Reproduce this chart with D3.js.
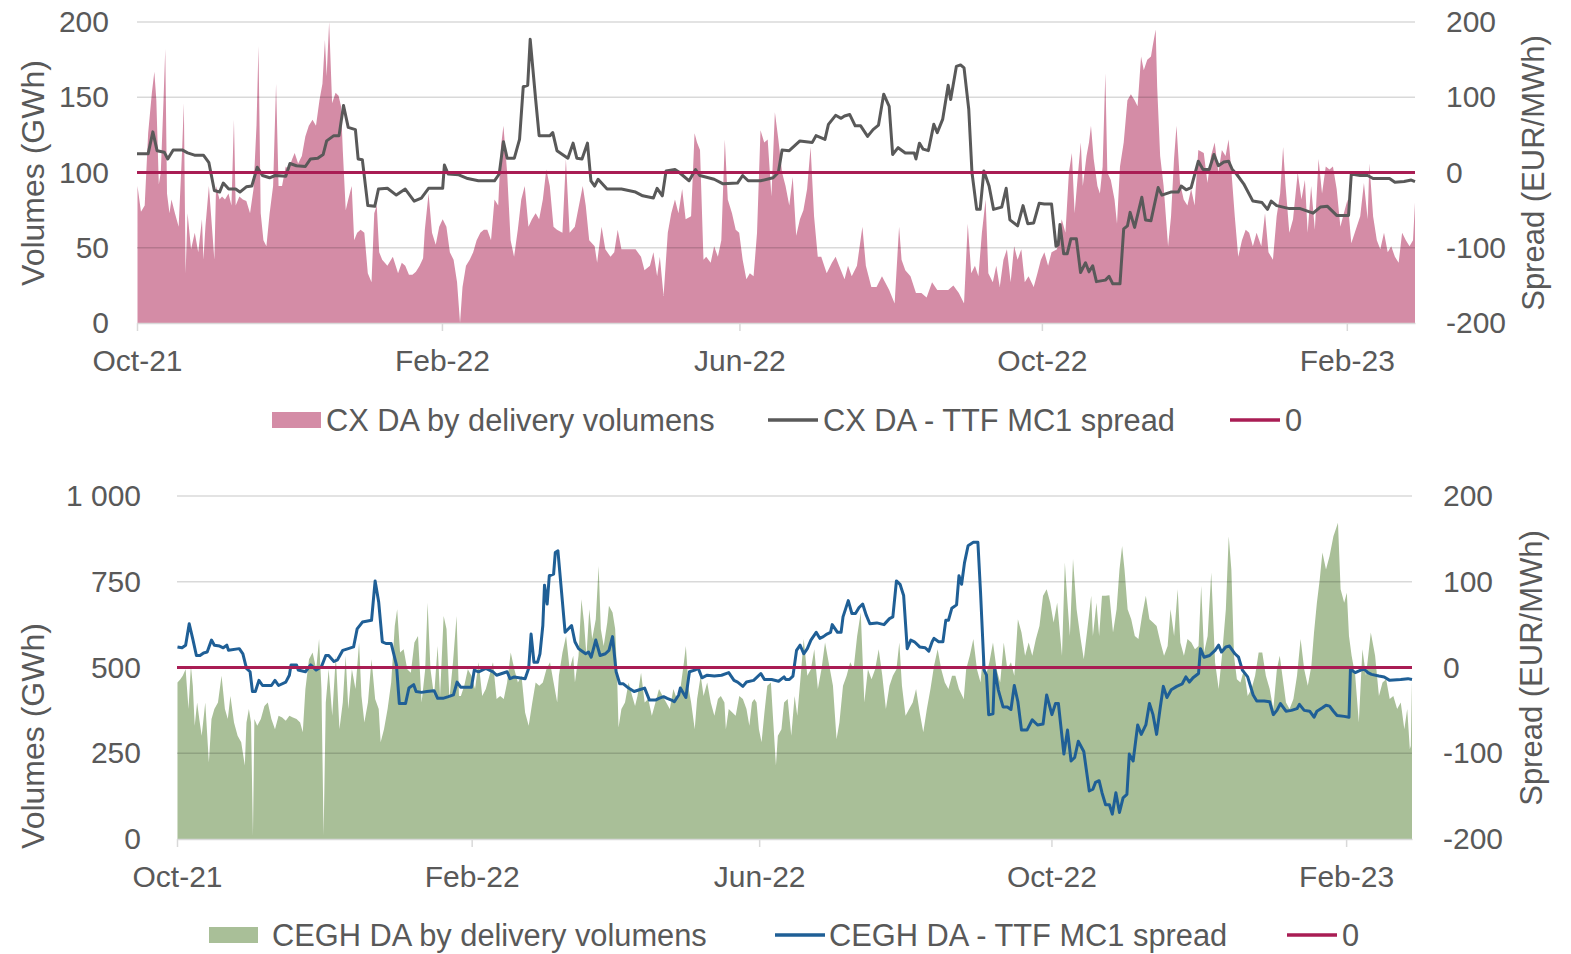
<!DOCTYPE html>
<html><head><meta charset="utf-8">
<script src="https://cdn.jsdelivr.net/npm/d3@7"></script>
<style>
body{margin:0;background:#fff}
svg{display:block}
text{font-family:"Liberation Sans",Arial,sans-serif;fill:#595959}
</style>
</head><body><svg id="c" width="1571" height="954"></svg>
<script>
// ---------- data ----------
const START = "2021-10-01";          // day 0
const END_DAY = 515.5;               // last day shown (end of Feb-23)
const tickMonths = ["2021-10-01","2022-02-01","2022-06-01","2022-10-01","2023-02-01"];
const tickLabels = ["Oct-21","Feb-22","Jun-22","Oct-22","Feb-23"];
const cxVolTicks = [0,50,100,150,200];
const ceghVolTicks = [0,250,500,750,1000];
const spreadTicks = [-200,-100,0,100,200];
const zeroLevel = 0;

// CX DA by delivery volumes (GWh) – day offset / value
const cxVolDays = [0.2,1.6,3.1,4.5,6,7,7.8,8.8,9.6,10.7,11.4,12.1,13.1,13.9,15.3,16.8,18.2,18.9,19.6,20.4,21.8,23.3,24.7,26.2,26.8,27.6,29,30.4,31.2,31.9,33.3,34.3,35.5,36.9,38.1,39.1,39.8,41.3,42.7,44.1,45.6,47,48.2,49,49.9,51,52.2,53.5,54.9,56.1,57.1,58.5,60,61.1,62.6,63.6,65,66.5,67.9,69.3,70.8,72.2,73.6,74.8,75.8,76.5,77.5,78.7,80.1,81.3,82.3,83,84.2,85.2,86.6,87.6,88.8,90.2,91.7,93.1,94.6,95.7,96.7,97.7,98.9,101,103.2,105.3,106.8,108.2,109.7,111.1,112.5,114,115.4,116.1,117.6,119,120.5,121.9,123.3,124.8,126.2,127.7,129.1,130.3,131.3,132.7,134.2,135.6,137,138.5,139.9,141.3,142.8,144.2,145.7,146.8,147.8,149.3,150.7,152.1,153.6,155,156.4,157.9,159.3,160.8,162.2,163.7,165.1,166.5,168,169.4,171.6,173,174.5,176.6,179.8,181,182.4,184.6,185.6,187.4,188.9,191,192.5,193.9,195.4,198.3,201.1,203.3,204.7,206.9,208.3,209.8,210.9,212.4,214.1,215.5,217,218.4,219.9,221.3,223.5,224.9,225.9,227.1,228.5,229.6,231.4,232.8,234.3,235.7,237.1,238.3,240,241.5,242.9,244.3,245.8,247.2,248.7,250.1,251.5,253,254.4,255.9,257.3,258.7,260.2,261.6,263.1,264.5,265.9,267.4,268.8,270.3,271.7,273.1,274.6,276,278.2,280.3,281.8,283.2,285.4,286.8,288.3,290.4,292.6,294,296.2,298.3,300.5,303.4,305.6,307.4,308.4,309.9,312,314.2,316.4,318.5,320.7,322.8,325,327.2,329.3,331.5,333.6,335.1,336.5,338,339.4,340.8,342.3,343.4,345.2,346.6,348,349.5,350.9,352.4,353.8,355.2,356.7,358.1,359.6,361.7,363.2,364.6,366,367.5,368.9,371.1,373,374.5,375.9,377.1,378.2,379.6,380.7,381.5,383,384,384.8,385.9,387.4,388.4,389.5,390.6,391.4,392.8,394.3,395.3,396.5,398,399.5,400.9,402.4,403.6,405,406.1,407.5,409,409.7,410.9,411.5,412.7,414.1,415.9,417.1,418.3,419.3,420.7,422.2,423.7,425.2,426.6,428.1,430.3,431.8,433.2,434.7,436.2,437.6,439.1,440.3,441.3,442.8,444.2,445.7,447.2,448.6,450.1,451.6,453.5,455,456.4,458.2,459.7,461.1,462.3,463.3,464.8,466.3,468.2,469.7,471.1,472.2,473.6,475.1,476.6,478,479.5,481,482.4,483.9,485.4,486.8,488.3,489.8,491.2,493.4,494.9,496.4,497.1,498.6,500.1,501.5,503,504.5,505.9,507.4,508.9,510.3,511.8,513.3,514.7,515.5];
const cxVol = [91,74,78,126,153,167,148,92,100,148,182,86,73,82,73,64,115,146,33,73,49,60,47,69,42,64,91,60,42,91,82,84,82,86,78,135,78,84,82,81,73,89,131,184,73,55,51,73,91,159,91,91,104,102,109,113,106,111,124,131,135,131,148,159,188,164,200,146,153,151,144,115,75,82,91,55,60,62,60,33,27,73,78,47,42,38,44,33,40,38,32,32,34,38,43,62,86,60,52,64,69,64,47,42,27,0,24,38,42,47,55,60,62,62,55,82,78,117,131,100,55,44,62,82,91,64,69,73,69,82,102,91,64,62,60,109,60,64,91,78,55,51,40,64,49,44,47,62,49,49,49,44,35,38,47,31,44,18,60,73,82,73,89,69,71,126,120,115,42,44,40,51,44,55,122,82,73,62,60,42,29,33,31,60,128,120,122,84,140,122,100,91,78,97,58,69,75,89,117,71,44,44,33,40,44,38,29,38,31,38,64,38,24,24,31,22,13,64,42,35,31,20,20,17,27,22,22,22,25,20,13,66,33,38,31,60,82,33,27,38,24,42,49,27,51,42,49,27,31,24,33,42,47,38,47,49,69,60,100,113,73,100,120,91,111,120,131,109,91,86,104,166,100,95,82,66,104,120,148,152,148,144,177,168,175,177,184,195,157,111,91,51,71,109,131,93,82,78,89,78,115,113,93,111,120,100,115,111,122,104,71,44,55,62,60,51,60,51,73,47,42,71,86,117,91,60,69,100,82,95,60,91,62,109,86,104,102,104,89,64,73,82,53,60,71,93,69,106,71,55,49,60,47,51,44,40,60,55,51,55,80];

// CX DA - TTF MC1 spread (EUR/MWh)
const cxSpreadDays = [0,4.5,6.4,8.1,11,12.4,14.6,18.2,20.4,23.2,26.8,29,31.2,33.3,34.8,37,39.8,41.5,44.1,46.3,48.5,50.6,53.5,55.7,60,61.7,64.3,67.9,70,72.9,75.1,76.5,79.4,81.5,83.3,85.2,88.1,89.2,90.9,93.1,95.9,97.4,101,104.6,108.2,111.8,114.7,117.6,123.3,124,125.5,129.8,133.4,137.7,144.2,146.1,147.8,149.3,152.2,154.3,155.8,157.6,158.6,160.8,162.2,166.6,167.7,169.4,171.6,173.8,175.9,177.4,179.5,181.7,183.1,184.6,186,189.6,195.4,201.1,204,208.3,209.8,211.9,213.4,217,218.4,222.7,225.3,227,232.8,236.4,242.2,244.3,246.5,251.5,256.6,258.7,260.2,263.1,267.4,272.4,273.9,277.5,278.9,281.8,284,285.4,287.5,289.7,291.9,294.7,296.9,299.1,301.2,303.4,304.8,307,309.9,313.5,314.2,315.6,317.1,319.2,321.4,322.8,325,327.2,328.2,330.5,332.2,333.6,335.5,336.8,338.7,340.1,341.6,343.7,345.5,348.8,350.6,352.1,355.2,357.4,359.3,361.7,363.9,366,368.9,370.7,371.6,372.3,373.8,375.2,376.7,378.9,380.6,382.6,384,385.5,387,390.6,392.1,393.6,396.5,398,399.5,400.6,402.4,405.3,406.8,409,411.9,413.4,417,420,421.2,423.2,425.2,428.1,430,432.5,434.4,436.2,438.4,440.3,441.8,443.5,446.4,450.1,453.8,456,457.5,459.7,464.8,469.2,474.4,477.3,480.2,483.9,488.7,489.8,493.4,496.4,498.6,505.2,507.4,511.1,514,515.5];
const cxSpread = [25,25,54,29,27,18,30,30,26,23,23,13,-24,-26,-14,-22,-22,-26,-19,-18,7,-4,-7,-4,-5,12,9,8,18,19,24,42,49,49,89,60,57,18,17,-44,-45,-22,-21,-30,-22,-38,-34,-21,-21,10,-2,-3,-8,-11,-11,-2,41,19,19,44,114,116,177,97,49,49,53,29,24,19,39,19,18,39,-11,-18,-9,-22,-22,-26,-31,-34,-21,-31,2,4,1,-11,4,-4,-9,-15,-14,-4,-11,-11,-7,0,30,29,42,40,49,44,64,76,72,75,77,62,62,48,57,63,104,88,24,33,26,26,18,39,31,29,64,53,71,116,97,141,143,139,84,0,-49,-49,2,-18,-49,-46,-21,-63,-71,-44,-68,-67,-41,-42,-42,-98,-96,-69,-108,-108,-88,-88,-133,-120,-132,-124,-145,-143,-138,-148,-148,-75,-71,-53,-73,-33,-63,-64,-20,-30,-26,-26,-18,-23,-20,15,4,4,24,9,14,15,4,-2,-15,-38,-40,-49,-38,-44,-48,-48,-54,-46,-45,-57,-57,-2,-4,-4,-8,-8,-13,-12,-10,-12];

// CEGH DA by delivery volumes (GWh)
const ceghVolDays = [0.2,1.4,2.4,3.6,4.8,5.8,6.6,7.4,8.4,9.3,10.3,11.8,13.3,14.4,15.6,17.1,18.6,20,21.2,22.3,23.8,25.3,26.8,28.3,29,30,30.9,31.7,32.3,33.5,35,36.5,37.9,39.4,40.9,42.4,43.9,45.4,46.9,48.4,49.9,51.4,52.5,53.6,55.1,56.6,58.1,59.3,60.3,61.2,62.1,63.3,64.8,66.3,67.8,69.2,70.4,71.5,73,74.5,76,77,78.2,79.7,81.2,82.7,84.2,85,86.4,87.9,89.4,90.9,91.9,93.1,94.6,96.1,97.6,99.1,100.6,102.1,103.6,104.6,105.8,107.3,108.8,109.8,111.3,112.5,113.7,115.2,116.7,117.7,118.5,119.9,121.4,122.9,124.4,125.9,127.4,128.9,130.4,131.9,133.4,134.9,136.4,137.8,139.3,140.8,142.3,143.8,145.3,146.8,148.3,149.7,151.2,152.7,154.2,155.7,157.2,158.7,159.4,160.9,162.4,163.9,165.4,166.1,167.6,168.8,169.9,170.9,172.1,173.3,174.8,176,176.9,178.1,179.6,180.3,181.8,182.9,183.7,184.3,185.5,187,188.5,190,191.2,192.2,193.7,195.2,196.7,198.2,199.7,201.2,202.7,204.2,205.7,207.2,208.6,210.1,211.6,212.4,213.6,214.6,216.1,217.1,218.6,219.8,221.3,222.8,224.3,225.8,227,228.5,229.1,230.3,231.8,233.2,234.7,236.2,237.7,238.9,240,241,241.9,242.9,244,245.2,246.4,247.9,248.9,250,250.8,252.3,253.4,254.9,256.4,257.8,258.9,260.1,261.6,263.1,264.6,266,267.5,269,270.5,272,273.8,275.3,276.5,278,279.5,281,282.4,283.9,285.4,286.9,288.4,289.9,291.4,292.9,294.4,295.9,297.4,298.8,300.3,301.5,302.6,304.1,305.6,307.1,308.5,310,311.5,313,314.5,316,317.5,319,320.5,322,323.5,324.9,326.4,328.4,329.4,330.9,332.4,333.9,335.4,336.4,337.6,339.1,340.6,342.1,343.6,345.1,346.6,348.1,349.5,351,352.5,354,355.5,357,358.5,360,361.5,363,364.5,365.9,367.4,369.4,370.6,371.7,372.7,374,375.5,377,378.5,380,381.6,382.3,383.8,384.9,386.1,387.6,389.2,390.7,392.2,393.4,394.5,395.5,396.8,398.3,399.8,401.3,402.8,404.4,405.9,407.4,408.9,410.5,412,413.5,414.7,416.2,417.7,418.8,420.3,421.8,423.4,424.9,426.4,427.5,428.7,430.2,431.7,433.3,434.8,436.3,437.8,439,440.1,441.2,442.4,443.9,445.4,446.9,448.5,450,451.5,453,454.5,456.1,457.6,459.1,460.3,461.4,462.9,464.4,466,467.5,469,470.5,472,473.5,474.6,475.8,477,478.1,479.6,481.1,482.7,483.7,484.6,485.7,487.2,488.3,489.2,490.3,491.8,493.3,494.8,496.3,498.3,500.1,501.7,503.2,504.7,506.2,507.7,509.3,510.8,512.3,513.5,514.6,515,515.5];
const ceghVol = [456,466,476,495,379,505,447,330,398,350,301,398,223,350,379,398,476,379,350,417,340,301,282,214,340,379,340,10,350,330,350,388,398,350,320,359,354,345,359,354,350,340,311,437,524,544,495,583,437,10,398,495,359,534,320,398,534,379,495,437,573,417,340,398,524,408,379,282,320,379,456,621,670,544,553,495,485,573,592,398,495,689,495,417,563,417,650,612,408,515,650,417,417,447,495,476,437,515,417,437,476,515,408,417,408,456,544,495,456,476,369,330,398,456,447,456,495,515,456,398,476,544,592,495,534,456,534,699,631,534,670,583,641,796,612,563,631,680,660,612,476,325,379,398,456,417,388,417,485,398,408,359,398,437,417,398,379,437,408,437,515,563,437,398,320,408,476,417,456,398,359,408,417,398,320,379,369,359,417,408,379,330,398,408,398,320,282,369,447,456,340,214,301,320,398,408,301,417,359,456,583,476,495,553,437,495,573,515,447,291,340,447,476,515,495,592,660,398,495,466,495,553,476,379,447,476,495,573,447,359,379,398,437,369,311,379,437,505,553,495,456,437,476,476,437,408,495,534,583,495,456,534,476,515,573,495,456,573,495,515,476,641,602,534,573,534,583,621,709,728,689,631,689,534,806,689,592,816,670,592,524,612,709,592,689,592,709,709,711,602,670,786,854,786,670,641,592,583,650,709,641,631,621,573,534,563,670,592,728,573,534,583,573,553,563,738,544,592,777,515,437,544,670,883,786,534,466,456,495,417,437,476,544,544,476,437,379,495,534,476,398,379,408,476,583,495,447,505,602,689,757,835,786,825,883,903,922,728,689,718,592,534,476,340,553,476,602,534,417,456,466,408,417,379,398,320,379,262,272,466];

// CEGH DA - TTF MC1 spread (EUR/MWh)
const ceghSpreadDays = [0.2,2.1,3.6,5.1,6.6,8.1,9.6,11.1,12.6,14.4,15.6,17.8,19.3,20.8,21.5,26,27.5,29,30.5,31.5,32.7,34.2,35.7,39.4,40.9,42.4,45.4,46.9,47.6,49.9,50.6,53.6,55.8,58.1,60.3,62.1,63.3,65.5,67,69.2,71.5,73.7,75.2,77.4,81.2,82.7,84.2,85.7,87.2,89.4,91.6,92.8,95.4,96.8,98.8,99.8,102.1,104.3,107.3,108.8,111,113.3,115.4,116.9,118.4,122.9,124.1,125.9,128.9,131.9,133.4,135.6,137.8,139,140.8,145.3,146.8,147.8,149,150.5,151.5,152.7,153.4,154.5,155.4,157.2,157.9,159,160.9,162,164.7,166.1,167.6,169.1,170.6,171.8,172.9,174.8,176.6,178.8,180.3,181.8,183.3,184.8,186.3,188.5,190.8,193,195.2,197.2,199.7,201.2,203.1,204.6,206.4,207.6,209.4,210.1,212.4,213.9,216.1,217.6,219.1,221.3,224.3,227.3,230.3,232.5,234,236.2,237.7,240.7,243.7,245.2,248.2,251.1,253.4,254.1,255.6,257.1,258.6,260.1,261.6,263.1,264.6,266.8,268.3,269.8,271.3,272.8,273.5,275.7,277.2,278,280.2,281.7,283.2,284.7,286.2,287.7,289.2,292.1,295.1,297.4,298.8,300.3,301.8,303.3,304.8,306.3,307.8,310,312.3,313.8,315.2,316,317.9,319.7,320.9,322,323.4,325.4,326.4,327.5,328.7,330.2,332.4,334.3,335.4,336.9,337.9,338.8,340.6,341.3,342.8,344.8,346.6,348.1,349.5,351,352.5,354.8,357,359.2,361.5,363,365.2,366.7,367.9,370.2,371.7,373.2,374.7,376.2,378.5,380.8,382.3,383.4,384.9,386.1,387.6,389.2,390.4,391.9,393.4,394.9,396.5,397.5,399.1,401,402.5,404.4,405.9,407.4,408.9,410.4,411.7,413.2,415,417.3,419.6,421.1,422.6,424.1,426.4,427.2,428.7,431,433.3,434.8,436,437.8,439.3,441.6,443.1,444.7,446.9,449.2,450.7,453.8,456.1,457.6,459.1,460.6,462.9,465.2,467.5,468.5,470.5,472.8,474.6,475.8,478.1,479.6,481.1,482.7,484.2,487.2,489.2,489.8,491.8,494.1,495.6,497.1,498.6,501.7,503.9,506.2,510.8,513.8,515.5];
const ceghSpread = [24,23,26,51,33,14,14,17,18,32,26,25,23,26,20,22,16,-1,-5,-28,-28,-15,-21,-21,-15,-21,-17,-9,3,3,-3,-5,3,-3,1,14,14,7,9,20,22,24,45,53,55,101,76,30,28,28,3,-42,-42,-24,-20,-28,-29,-28,-27,-36,-36,-34,-32,-17,-23,-23,-3,-5,-1,-5,-9,-7,-5,-13,-11,-13,-1,39,6,6,16,49,96,74,107,109,134,136,76,41,49,30,22,19,16,18,12,32,14,16,20,36,-5,-19,-19,-24,-28,-26,-24,-38,-38,-36,-34,-36,-38,-40,-32,-24,-35,-5,-3,-1,-12,-9,-10,-9,-6,-15,-17,-22,-17,-15,-7,-14,-14,-16,-11,-14,-14,-10,20,26,16,22,32,41,34,36,39,41,50,41,41,59,78,63,63,70,74,61,51,52,50,57,59,101,97,84,22,32,30,24,23,19,30,34,30,30,55,55,69,73,107,97,122,142,146,146,88,-3,-9,-55,-54,-1,-26,-46,-46,-49,-21,-40,-73,-73,-61,-67,-66,-32,-55,-42,-42,-101,-73,-109,-105,-86,-98,-144,-142,-134,-132,-146,-160,-160,-171,-146,-169,-152,-148,-101,-109,-67,-78,-67,-42,-55,-78,-47,-22,-35,-26,-22,-19,-11,-17,-12,-7,22,12,14,20,26,18,24,25,16,12,-3,-11,-32,-39,-39,-40,-55,-50,-42,-51,-50,-48,-43,-50,-51,-58,-51,-47,-44,-45,-51,-56,-57,-58,-2,-6,-3,-2,-6,-8,-10,-11,-15,-14,-13,-14];

// ---------- drawing ----------
const svg = d3.select("#c");
const parse = d3.utcParse("%Y-%m-%d");
const t0 = parse(START);
const dayToDate = d => new Date(t0.getTime() + d * 864e5);
const spaceFmt = v => String(v).replace(/\B(?=(\d{3})+(?!\d))/g, "\u00a0");
const plainFmt = v => String(v);   // hyphen-minus like the reference

function panel(o) {
  const g = svg.append("g");
  const x = d3.scaleUtc().domain([t0, dayToDate(END_DAY)]).range([o.left, o.right]);
  const yL = d3.scaleLinear().domain([0, o.volTicks[o.volTicks.length - 1]]).range([o.bottom, o.top]);
  const yR = d3.scaleLinear().domain([spreadTicks[0], spreadTicks[spreadTicks.length - 1]]).range([o.bottom, o.top]);

  const clipId = "clip" + o.id;
  svg.append("clipPath").attr("id", clipId).append("rect")
    .attr("x", o.left).attr("y", o.top - 1).attr("width", o.right - o.left).attr("height", o.bottom - o.top + 1);

  const volData = o.volDays.map((d, i) => ({t: dayToDate(d), v: o.vol[i]}));
  const sprData = o.sprDays.map((d, i) => ({t: dayToDate(d), v: o.spr[i]}));

  // area
  g.append("path").datum(volData)
    .attr("clip-path", `url(#${clipId})`)
    .attr("fill", o.areaColor)
    .attr("d", d3.area().x(d => x(d.t)).y0(yL(0)).y1(d => yL(d.v)));

  // gridlines (drawn over area, semi-transparent)
  g.append("g").selectAll("line").data(o.volTicks.filter(v => v > 0)).join("line")
    .attr("x1", o.left).attr("x2", o.right)
    .attr("y1", d => yL(d)).attr("y2", d => yL(d))
    .attr("stroke", "#000").attr("stroke-opacity", 0.15).attr("stroke-width", 1.5);

  // x axis
  const xa = g.append("g").attr("transform", `translate(0,${o.bottom})`)
    .call(d3.axisBottom(x).tickValues(tickMonths.map(parse))
      .tickFormat((d, i) => tickLabels[i]).tickSize(8).tickSizeOuter(0).tickPadding(o.xPad));
  xa.select(".domain").attr("stroke", "#d9d9d9").attr("stroke-width", 1.5);
  xa.selectAll(".tick line").attr("stroke", "#d9d9d9").attr("stroke-width", 1.5);
  xa.selectAll("text").attr("font-size", 30).attr("fill", "#595959");

  // left axis
  const la = g.append("g").attr("transform", `translate(${o.left},0)`)
    .call(d3.axisLeft(yL).tickValues(o.volTicks).tickFormat(o.volFmt).tickSize(0).tickPadding(o.leftPad));
  la.select(".domain").remove();
  la.selectAll("text").attr("font-size", 30).attr("fill", "#595959");

  // right axis
  const ra = g.append("g").attr("transform", `translate(${o.right},0)`)
    .call(d3.axisRight(yR).tickValues(spreadTicks).tickFormat(plainFmt).tickSize(0).tickPadding(o.rightPad));
  ra.select(".domain").remove();
  ra.selectAll("text").attr("font-size", 30).attr("fill", "#595959");

  // spread line
  g.append("path").datum(sprData)
    .attr("fill", "none").attr("stroke", o.lineColor).attr("stroke-width", 3)
    .attr("stroke-linejoin", "round")
    .attr("d", d3.line().x(d => x(d.t)).y(d => yR(d.v)));

  // zero line
  g.append("line")
    .attr("x1", o.left).attr("x2", o.right)
    .attr("y1", yR(zeroLevel)).attr("y2", yR(zeroLevel))
    .attr("stroke", "#a91d54").attr("stroke-width", 3);

  // axis titles
  g.append("text").attr("transform", `translate(${o.lTitleX},${o.lTitleY}) rotate(-90)`)
    .attr("text-anchor", "middle").attr("dy", "0.35em").attr("font-size", 32)
    .text("Volumes (GWh)");
  g.append("text").attr("transform", `translate(${o.rTitleX},${o.rTitleY}) rotate(-90)`)
    .attr("text-anchor", "middle").attr("dy", "0.35em").attr("font-size", 31)
    .text("Spread (EUR/MWh)");

  // legend
  const ly = o.legendY, lfs = 30.8;
  g.append("rect").attr("x", o.leg[0]).attr("y", ly - 8).attr("width", 49).attr("height", 16).attr("fill", o.areaColor);
  g.append("text").attr("x", o.leg[1]).attr("y", ly).attr("dy", "0.35em").attr("font-size", lfs).text(o.volName);
  g.append("line").attr("x1", o.leg[2]).attr("x2", o.leg[2] + 50).attr("y1", ly).attr("y2", ly)
    .attr("stroke", o.lineColor).attr("stroke-width", 3.5);
  g.append("text").attr("x", o.leg[3]).attr("y", ly).attr("dy", "0.35em").attr("font-size", lfs).text(o.sprName);
  g.append("line").attr("x1", o.leg[4]).attr("x2", o.leg[4] + 50).attr("y1", ly).attr("y2", ly)
    .attr("stroke", "#a91d54").attr("stroke-width", 3.5);
  g.append("text").attr("x", o.leg[5]).attr("y", ly).attr("dy", "0.35em").attr("font-size", lfs).text(String(zeroLevel));
}

panel({
  id: "top", left: 137, right: 1415, top: 22, bottom: 323,
  volTicks: cxVolTicks, volFmt: plainFmt,
  volDays: cxVolDays, vol: cxVol, sprDays: cxSpreadDays, spr: cxSpread,
  areaColor: "#d48ca6", lineColor: "#595959",
  leftPad: 28, rightPad: 31, xPad: 19,
  lTitleX: 33, lTitleY: 173, rTitleX: 1533, rTitleY: 173,
  legendY: 420, leg: [272, 326, 768, 823, 1230, 1285],
  volName: "CX DA by delivery volumens", sprName: "CX DA - TTF MC1 spread"
});

panel({
  id: "bot", left: 177, right: 1412, top: 496, bottom: 839,
  volTicks: ceghVolTicks, volFmt: spaceFmt,
  volDays: ceghVolDays, vol: ceghVol, sprDays: ceghSpreadDays, spr: ceghSpread,
  areaColor: "#a9bf98", lineColor: "#1f5f96",
  leftPad: 36, rightPad: 31, xPad: 19,
  lTitleX: 33, lTitleY: 736, rTitleX: 1531, rTitleY: 668,
  legendY: 935, leg: [209, 272, 775, 829, 1287, 1342],
  volName: "CEGH DA by delivery volumens", sprName: "CEGH DA - TTF MC1 spread"
});
</script>
</body></html>
